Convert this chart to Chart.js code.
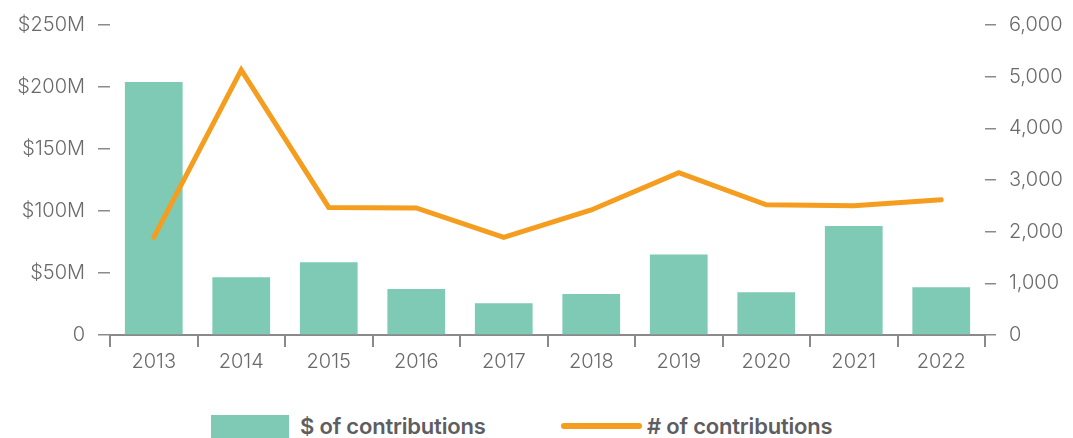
<!DOCTYPE html>
<html>
<head>
<meta charset="utf-8">
<script src="https://cdn.jsdelivr.net/npm/chart.js@4"></script>
<style>
  html, body { margin: 0; padding: 0; background: #fff; }
  #wrap { position: relative; width: 1073px; height: 438px; overflow: hidden; }
  #box { position: absolute; left: 0; top: 0; width: 1073px; height: 390px; }
  .legend { position: absolute; top: 413px; height: 26px; display: flex; align-items: center;
            font-family: Inter, "Liberation Sans", sans-serif; font-weight: 600; font-size: 22px;
            letter-spacing: -0.2px; color: #5e5e62; white-space: nowrap; }
  .swatch { width: 78px; height: 23px; background: #7ecab5; margin-right: 11px; }
  .stroke { width: 81px; height: 6px; border-radius: 3px; background: #f59d1e; margin-right: 5px; }
</style>
</head>
<body>
<div id="wrap">
  <div id="box"><canvas id="chart"></canvas></div>
  <div class="legend" style="left:211px"><span class="swatch"></span>$ of contributions</div>
  <div class="legend" style="left:561px"><span class="stroke"></span># of contributions</div>
</div>
<script>
const years = ['2013', '2014', '2015', '2016', '2017', '2018', '2019', '2020', '2021', '2022'];
// $ of contributions, millions
const amountsM = [204, 46.5, 58.7, 37, 25.6, 33, 65, 34.5, 88, 38.5];
// # of contributions
const counts = [1890, 5130, 2470, 2460, 1890, 2420, 3140, 2520, 2500, 2620];

const grey = '#8a8a8a';
const tickFont = { family: 'Inter, "Liberation Sans", sans-serif', size: 20, weight: 300 };

new Chart(document.getElementById('chart'), {
    data: {
        labels: years,
        datasets: [
            {
                type: 'line', label: '# of contributions', data: counts, yAxisID: 'yr',
                borderColor: '#f59d1e', borderWidth: 5, pointRadius: 0, pointHoverRadius: 0,
                borderCapStyle: 'round', borderJoinStyle: 'miter', tension: 0, order: 0
            },
            {
                type: 'bar', label: '$ of contributions', data: amountsM, yAxisID: 'y',
                backgroundColor: '#7ecab5', barPercentage: 0.66, categoryPercentage: 1, order: 1
            }
        ]
    },
    options: {
        responsive: true,
        maintainAspectRatio: false,
        animation: false,
        layout: { padding: { top: 13 } },
        plugins: { legend: { display: false }, tooltip: { enabled: false } },
        scales: {
            x: {
                offset: true,
                grid: { display: true, offset: true, drawOnChartArea: false, drawTicks: true, tickLength: 12, color: grey, lineWidth: 2 },
                border: { display: true, color: grey, width: 2 },
                ticks: { color: '#6a6a6a', font: tickFont, padding: 3, maxRotation: 0 },
                afterFit: s => { s.height = 55; }
            },
            y: {
                position: 'left', min: 0, max: 250,
                grid: { drawOnChartArea: false, drawTicks: true, tickLength: 12, color: grey, lineWidth: 1.5 },
                border: { display: false },
                ticks: { stepSize: 50, color: '#6a6a6a', font: tickFont, padding: 13,
                         callback: v => v === 0 ? '0' : '$' + v + 'M' },
                afterFit: s => { s.width = 110; }
            },
            yr: {
                position: 'right', min: 0, max: 6000,
                grid: { drawOnChartArea: false, drawTicks: true, tickLength: 11, color: grey, lineWidth: 1.5 },
                border: { display: false },
                ticks: { stepSize: 1000, color: '#6a6a6a', font: tickFont, padding: 13,
                         callback: v => v.toLocaleString('en-US') },
                afterFit: s => { s.width = 88; }
            }
        }
    }
});
</script>
</body>
</html>
